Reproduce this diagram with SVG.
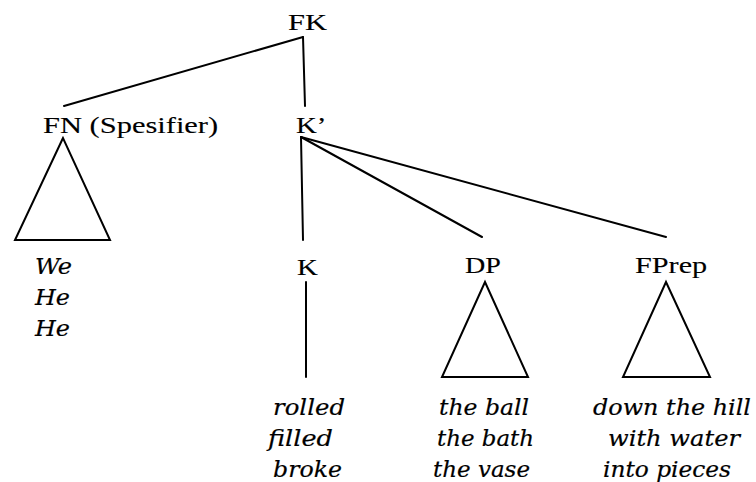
<svg xmlns="http://www.w3.org/2000/svg" width="756" height="482" viewBox="0 0 756 482">
<style>
text{font-family:"Liberation Serif","Times New Roman",serif;font-size:24px;fill:#000;stroke:#000;stroke-width:0.12}
.it{font-family:"DejaVu Serif","Liberation Serif",serif;font-style:italic;font-size:22.5px;stroke-width:0.2}
line,polygon{stroke:#000;stroke-width:2;fill:none;stroke-linecap:round;stroke-linejoin:miter}
</style>
<rect width="756" height="482" fill="#fff"/>
<g id="connectors">
<line x1="303" y1="37" x2="64" y2="106"/>
<line x1="303" y1="37" x2="305" y2="106"/>
<line x1="301" y1="137" x2="303" y2="240"/>
<line x1="301" y1="137" x2="482" y2="237"/>
<line x1="301" y1="137" x2="666" y2="237"/>
<line x1="306" y1="282" x2="306" y2="377"/>
</g>
<g id="node-FK"><text transform="translate(288,30) scale(1.27,1)">FK</text></g>
<g id="node-FN"><text transform="translate(43,133) scale(1.27,1)">FN (Spesifier)</text>
<polygon points="63,138 15,240 110,240"/></g>
<g id="node-Kbar"><text transform="translate(296,133) scale(1.2,1)">K’</text></g>
<g id="node-K"><text transform="translate(297,275) scale(1.2,1)">K</text></g>
<g id="node-DP"><text transform="translate(465,273) scale(1.17,1)">DP</text>
<polygon points="485,282 442,377 528,377"/></g>
<g id="node-FPrep"><text transform="translate(635,273) scale(1.26,1)">FPrep</text>
<polygon points="666,282 623,377 710,377"/></g>
<g id="words-FN">
<text class="it" x="35" y="274" textLength="37" lengthAdjust="spacingAndGlyphs">We</text>
<text class="it" x="35" y="305" textLength="35" lengthAdjust="spacingAndGlyphs">He</text>
<text class="it" x="35" y="336" textLength="35" lengthAdjust="spacingAndGlyphs">He</text>
</g>
<g id="words-K">
<text class="it" x="273" y="415" textLength="72" lengthAdjust="spacingAndGlyphs">rolled</text>
<text class="it" x="268" y="446" textLength="65" lengthAdjust="spacingAndGlyphs">filled</text>
<text class="it" x="273" y="477" textLength="69" lengthAdjust="spacingAndGlyphs">broke</text>
</g>
<g id="words-DP">
<text class="it" x="439" y="415" textLength="90" lengthAdjust="spacingAndGlyphs">the ball</text>
<text class="it" x="437" y="446" textLength="97" lengthAdjust="spacingAndGlyphs">the bath</text>
<text class="it" x="433" y="477" textLength="97" lengthAdjust="spacingAndGlyphs">the vase</text>
</g>
<g id="words-FPrep">
<text class="it" x="593" y="415" textLength="158" lengthAdjust="spacingAndGlyphs">down the hill</text>
<text class="it" x="608" y="446" textLength="132" lengthAdjust="spacingAndGlyphs">with water</text>
<text class="it" x="603" y="477" textLength="128" lengthAdjust="spacingAndGlyphs">into pieces</text>
</g>
</svg>
